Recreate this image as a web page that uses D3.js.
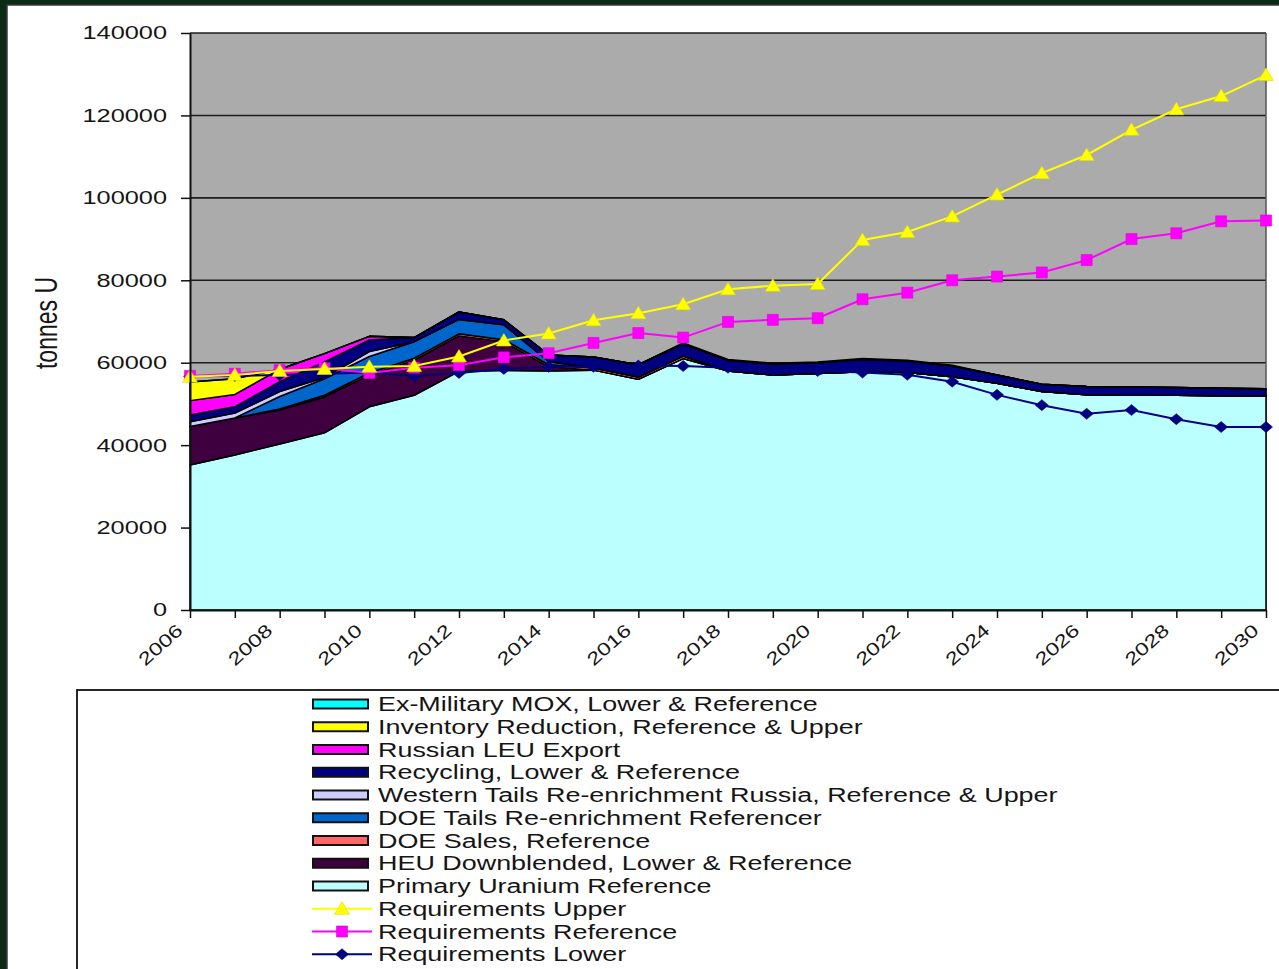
<!doctype html>
<html>
  <head>
    <script src="https://cdnjs.cloudflare.com/ajax/libs/d3/7.8.5/d3.min.js"></script>
    <style>
      body { margin: 0; background: #fff; }
      svg { display: block; font-family: "Liberation Sans", Arial, sans-serif; }
      .tick line { stroke: #111; stroke-width: 1.5; }
      .domain { stroke: #111; stroke-width: 2; }
    </style>
  </head>
  <body>
    <svg width="1279" height="969"></svg>
    <script>
      // data (tonnes U)
      var years = [2006, 2007, 2008, 2009, 2010, 2011, 2012, 2013, 2014, 2015, 2016, 2017, 2018,
                   2019, 2020, 2021, 2022, 2023, 2024, 2025, 2026, 2027, 2028, 2029, 2030];
      var yearLabels = [2006, 2008, 2010, 2012, 2014, 2016, 2018, 2020, 2022, 2024, 2026, 2028, 2030];
      var yTicks = [0, 20000, 40000, 60000, 80000, 100000, 120000, 140000];

      var primaryUranium = [35200, 37600, 40300, 43000, 49300, 52100, 57900, 58100, 58000, 58200, 56000, 61000, 58000,
                            57000, 57400, 57800, 57600, 56600, 55000, 53000, 52200, 52100, 52100, 52000, 52000];
      var heuDownblended = [9300, 9000, 8200, 8700, 7700, 8500, 8600, 7000, 1000, 0, 0, 0, 0,
                            0, 0, 0, 0, 0, 0, 0, 0, 0, 0, 0, 0];
      var doeSales = [0, 0, 300, 400, 500, 500, 500, 500, 500, 500, 500, 600, 0,
                      0, 0, 0, 0, 0, 0, 0, 0, 0, 0, 0, 0];
      var doeTails = [0, 0, 3000, 4000, 4000, 4000, 3500, 3600, 800, 0, 0, 0, 0,
                      0, 0, 0, 0, 0, 0, 0, 0, 0, 0, 0, 0];
      var westernTails = [1200, 1200, 1200, 300, 1200, 0, 0, 0, 0, 0, 0, 0, 0,
                          0, 0, 0, 0, 0, 0, 0, 0, 0, 0, 0, 0];
      var recycling = [1600, 1500, 2400, 3800, 2800, 1000, 1800, 1200, 1600, 2700, 3000, 3000, 2600,
                       2700, 2600, 3000, 2800, 2600, 2000, 1800, 2000, 2000, 1900, 1800, 1700];
      var russianLeu = [3500, 3000, 3000, 2000, 900, 0, 0, 0, 0, 0, 0, 0, 0,
                        0, 0, 0, 0, 0, 0, 0, 0, 0, 0, 0, 0];
      var inventoryReduction = [4500, 3800, 0, 0, 0, 0, 0, 0, 0, 0, 0, 0, 0,
                                0, 0, 0, 0, 0, 0, 0, 0, 0, 0, 0, 0];
      var exMilitaryMox = [0, 0, 0, 0, 0, 0, 0, 0, 0, 0, 0, 200, 200,
                           200, 200, 200, 200, 200, 0, 0, 0, 0, 0, 0, 0];

      var reqUpper = [56600, 57000, 58000, 58500, 59000, 59200, 61500, 65400, 67100, 70300, 72000, 74200, 77800,
                      78700, 79100, 89800, 91700, 95500, 100800, 106000, 110400, 116500, 121500, 124700, 129800];
      var reqReference = [56800, 57300, 58200, 58700, 57500, 58800, 59400, 61300, 62300, 64800, 67200, 66100, 69900,
                          70400, 70800, 75400, 77000, 80000, 80900, 81900, 84900, 90000, 91400, 94300, 94500];
      var reqLower = [56700, 56800, 57000, 57300, 57600, 56700, 57500, 58500, 59000, 59000, 59300, 59200, 58800,
                      58200, 58000, 57600, 57100, 55400, 52200, 49700, 47600, 48500, 46300, 44400, 44400];

      // stack order, bottom first
      var areaKeys = ["primary", "heu", "doeSales", "doeTails", "western", "recycling", "russian", "inventory", "mox"];
      var areaValues = {
        primary: primaryUranium, heu: heuDownblended, doeSales: doeSales, doeTails: doeTails,
        western: westernTails, recycling: recycling, russian: russianLeu,
        inventory: inventoryReduction, mox: exMilitaryMox
      };
      var areaNames = {
        mox: "Ex-Military MOX, Lower & Reference",
        inventory: "Inventory Reduction, Reference & Upper",
        russian: "Russian LEU Export",
        recycling: "Recycling, Lower & Reference",
        western: "Western Tails Re-enrichment Russia, Reference & Upper",
        doeTails: "DOE Tails Re-enrichment Referencer",
        doeSales: "DOE Sales, Reference",
        heu: "HEU Downblended, Lower & Reference",
        primary: "Primary Uranium Reference"
      };
      var areaColor = {
        mox: "#00ffff", inventory: "#ffff00", russian: "#ff00ff", recycling: "#000080",
        western: "#ccccff", doeTails: "#0066cc", doeSales: "#ff6666", heu: "#3e003e", primary: "#bbffff"
      };

      var lineSeries = [
        {name: "Requirements Upper", values: reqUpper, color: "#ffff00", marker: "M0,-7L7.5,5.5L-7.5,5.5Z"},
        {name: "Requirements Reference", values: reqReference, color: "#ff00ff", marker: "M-5.5,-5.5h11v11h-11Z"},
        {name: "Requirements Lower", values: reqLower, color: "#000080", marker: "M0,-5.5L6.5,0L0,5.5L-6.5,0Z"}
      ];

      var svg = d3.select("svg");
      var stretch = 1.37;   // the source is drawn wide

      // dark frame round the page
      svg.append("rect").attr("width", 1279).attr("height", 969).attr("fill", "#0c2a14");
      svg.append("rect").attr("x", 7).attr("y", 5).attr("width", 1290).attr("height", 990)
          .attr("fill", "#fff").attr("stroke", "#3a3a3a").attr("stroke-width", 1.5);

      var x = d3.scaleLinear().domain([2006, 2030]).range([190, 1266]);
      var y = d3.scaleLinear().domain([0, 140000]).range([610, 33]);

      svg.append("rect")
          .attr("x", x(2006)).attr("y", y(140000))
          .attr("width", x(2030) - x(2006)).attr("height", y(0) - y(140000))
          .attr("fill", "#ababab");

      // gridlines
      svg.selectAll("line.grid")
        .data(yTicks.filter(d => d > 0))
        .enter().append("line")
          .attr("class", "grid")
          .attr("x1", x(2006)).attr("x2", x(2030))
          .attr("y1", d => y(d)).attr("y2", d => y(d))
          .attr("stroke", "#1e1e1e").attr("stroke-width", 1.6);

      svg.append("line")
          .attr("x1", x(2030)).attr("x2", x(2030))
          .attr("y1", y(140000)).attr("y2", y(0))
          .attr("stroke", "#555").attr("stroke-width", 1.5);

      // stacked areas
      var rows = years.map(function (yr, i) {
        var r = {year: yr};
        areaKeys.forEach(k => { r[k] = areaValues[k][i]; });
        return r;
      });
      var layers = d3.stack().keys(areaKeys)(rows);
      var area = d3.area()
          .x(d => x(d.data.year))
          .y0(d => y(d[0]))
          .y1(d => y(d[1]));

      svg.selectAll("path.layer")
        .data(layers)
        .enter().append("path")
          .attr("class", "layer")
          .attr("d", area)
          .attr("fill", d => areaColor[d.key])
          .attr("stroke", "#000")
          .attr("stroke-width", 1.5)
          .attr("stroke-linejoin", "round");

      // requirement lines, lower drawn first so upper sits on top
      var line = d3.line().x((d, i) => x(years[i])).y(d => y(d));
      lineSeries.slice().reverse().forEach(function (s) {
        svg.append("path")
            .attr("d", line(s.values))
            .attr("fill", "none")
            .attr("stroke", s.color)
            .attr("stroke-width", 2);
        svg.selectAll(null)
          .data(s.values)
          .enter().append("path")
            .attr("d", s.marker)
            .attr("transform", (d, i) => "translate(" + x(years[i]) + "," + y(d) + ")")
            .attr("fill", s.color)
            .attr("stroke", d3.color(s.color).darker(0.4))
            .attr("stroke-width", 0.6);
      });

      // axes
      var yAxis = svg.append("g")
          .attr("transform", "translate(" + x(2006) + ",0)")
          .call(d3.axisLeft(y).tickValues(yTicks).tickFormat(d3.format("d"))
                  .tickSize(9).tickSizeOuter(0).tickPadding(14));
      yAxis.selectAll("text")
          .attr("font-size", 18.5)
          .attr("fill", "#151515")
          .attr("font-family", "Liberation Sans, Arial, sans-serif")
          .each(function () {
            var w = this.getComputedTextLength();
            d3.select(this).attr("textLength", w * stretch).attr("lengthAdjust", "spacingAndGlyphs");
          });

      svg.append("g")
          .attr("transform", "translate(0," + y(0) + ")")
          .call(d3.axisBottom(x).tickValues(years).tickSize(8).tickSizeOuter(0).tickFormat(""));

      svg.selectAll("text.xlab")
        .data(yearLabels)
        .enter().append("text")
          .attr("class", "xlab")
          .attr("transform", d => "translate(" + (x(d) - 6) + "," + (y(0) + 22) + ") rotate(-42)")
          .attr("text-anchor", "end")
          .attr("font-size", 18)
          .attr("fill", "#151515")
          .text(d => d)
          .each(function () {
            var w = this.getComputedTextLength();
            d3.select(this).attr("textLength", w * 1.3).attr("lengthAdjust", "spacingAndGlyphs");
          });

      svg.append("text")
          .attr("transform", "translate(57,323) rotate(-90) scale(1," + stretch + ")")
          .attr("text-anchor", "middle")
          .attr("font-size", 23)
          .attr("fill", "#151515")
          .text("tonnes U");

      // legend
      var legendTop = 704, rowStep = 22.75;
      svg.append("rect")
          .attr("x", 77).attr("y", 690).attr("width", 1300).attr("height", 400)
          .attr("fill", "#fff").attr("stroke", "#111").attr("stroke-width", 1.8);

      var legendItems = areaKeys.slice().reverse().map(k => ({name: areaNames[k], fill: areaColor[k]}))
          .concat(lineSeries.map(s => ({name: s.name, line: s})));

      var leg = svg.selectAll("g.legend")
        .data(legendItems)
        .enter().append("g")
          .attr("class", "legend")
          .attr("transform", (d, i) => "translate(0," + (legendTop + i * rowStep) + ")");

      leg.filter(d => !d.line).append("rect")
          .attr("x", 313).attr("y", -4.5).attr("width", 55).attr("height", 9)
          .attr("fill", d => d.fill).attr("stroke", "#111").attr("stroke-width", 2);

      leg.filter(d => d.line).append("line")
          .attr("x1", 312).attr("x2", 372).attr("y1", 0).attr("y2", 0)
          .attr("stroke", d => d.line.color).attr("stroke-width", 2);
      leg.filter(d => d.line).append("path")
          .attr("d", d => d.line.marker)
          .attr("transform", "translate(342,0)")
          .attr("fill", d => d.line.color)
          .attr("stroke", d => d3.color(d.line.color).darker(0.4))
          .attr("stroke-width", 0.6);

      leg.append("text")
          .attr("x", 378).attr("y", 7)
          .attr("font-size", 19.5)
          .attr("fill", "#151515")
          .text(d => d.name)
          .each(function () {
            var w = this.getComputedTextLength();
            d3.select(this).attr("textLength", w * 1.38).attr("lengthAdjust", "spacingAndGlyphs");
          });
    </script>
  </body>
</html>
